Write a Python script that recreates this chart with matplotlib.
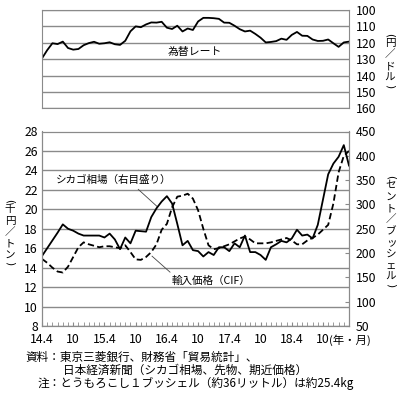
import matplotlib
matplotlib.use('Agg')
import matplotlib.pyplot as plt
import numpy as np

plt.rcParams['font.family'] = ['Noto Sans CJK JP', 'DejaVu Sans']

# ---- data ----
xtick_labels = ['14.4', '10', '15.4', '10', '16.4', '10', '17.4', '10', '18.4', '10']

yen = [129.5, 124.5, 120.3, 120.8, 119.3, 123.2, 124.2, 123.8, 121.5, 120.2,
       119.4, 120.6, 120.3, 119.7, 120.9, 121.3, 118.8, 113.0, 110.0, 110.5,
       108.8, 107.6, 107.7, 107.2, 110.8, 111.6, 109.6, 113.1, 111.3, 112.2,
       107.0, 104.8, 104.8, 105.0, 105.4, 107.7, 107.8, 109.6, 111.7, 113.1,
       112.6, 114.6, 116.9, 119.8, 119.5, 119.0, 117.5, 118.2, 115.2, 113.4,
       115.7, 115.8, 118.0, 118.9, 118.8, 118.0, 120.3, 122.5, 119.8, 119.3]

chicago_cents = [194, 210, 226, 242, 259, 250, 246, 240, 236, 236,
                 236, 236, 232, 240, 228, 208, 232, 220, 246, 245,
                 244, 274, 292, 306, 317, 302, 260, 216, 225, 206,
                 204, 193, 202, 196, 212, 212, 204, 220, 212, 236,
                 202, 202, 196, 186, 212, 218, 225, 222, 230, 248,
                 236, 238, 230, 258, 310, 362, 384, 398, 422, 380]

import_price = [14.9, 14.5, 14.0, 13.6, 13.5, 14.1, 15.1, 16.1, 16.6, 16.4,
                16.25, 16.1, 16.2, 16.2, 16.1, 16.0, 16.3, 15.6, 14.85, 14.8,
                15.1, 15.6, 16.4, 17.9, 18.5, 20.2, 21.3, 21.4, 21.6, 21.1,
                19.9, 18.0, 16.3, 15.9, 16.0, 16.2, 16.4, 16.7, 17.0, 17.2,
                16.9, 16.5, 16.5, 16.5, 16.6, 16.75, 16.9, 17.05, 16.8, 16.4,
                16.4, 16.8, 17.05, 17.4, 17.9, 18.4, 20.6, 23.8, 25.5, 26.0]

months = np.arange(len(yen))

W, H = 400, 397
GRID = '#8a8a8a'

def fx(x): return x / W
def fy(y): return 1 - y / H

fig = plt.figure(figsize=(W / 100, H / 100), dpi=100)

# ---- top panel: exchange rate ----
axt = fig.add_axes([fx(42), fy(108.3), (349 - 42) / W, (108.3 - 10) / H])
axt.plot(months, yen, color='black', lw=1.3)
axt.set_xlim(0, len(yen) - 1)
axt.set_ylim(160, 100)
axt.set_yticks(range(100, 161, 10))
axt.yaxis.tick_right()
axt.tick_params(axis='y', length=0, labelsize=8.8, pad=5)
axt.set_xticks([])
axt.grid(axis='y', color=GRID, lw=1.0)
for s in axt.spines.values():
    s.set_color(GRID)
axt.text(29.4, 125.6, '為替レート', fontsize=7.8, ha='center', va='center')

# ---- bottom panel ----
ax = fig.add_axes([fx(42), fy(326), (349 - 42) / W, (326 - 131.5) / H])
ax.set_xlim(0, len(yen) - 1)
ax.set_ylim(8, 28)
ax.set_yticks(range(8, 29, 2))
ax.grid(axis='y', color=GRID, lw=1.0)
ax.tick_params(axis='y', length=0, labelsize=8.8, pad=3)
ax.set_xticks(np.arange(0, 60, 6))
ax.set_xticklabels(xtick_labels)
ax.set_xticks(months, minor=True)
ax.tick_params(axis='x', which='both', direction='in', length=3, color=GRID,
               labelsize=8.8, pad=5)
for s in ax.spines.values():
    s.set_color(GRID)
ax.plot(months, import_price, color='black', lw=1.3, linestyle=(0, (3.5, 1.8)))

ax2 = ax.twinx()
ax2.set_ylim(50, 450)
ax2.set_yticks(range(50, 451, 50))
ax2.tick_params(axis='y', direction='in', length=3, color=GRID, labelsize=8.8, pad=5)
for s in ax2.spines.values():
    s.set_color(GRID)
ax2.plot(months, chicago_cents, color='black', lw=1.3)

# annotations
ax.plot([18.5, 22.1], [22.05, 20.3], color='#444444', lw=0.6)
ax.text(13.8, 23.0, 'シカゴ相場（右目盛り）', fontsize=7.6, ha='center', va='center')
ax.plot([21.15, 24.6], [15.18, 13.54], color='#444444', lw=0.6)
ax.text(32.5, 12.6, '輸入価格（CIF）', fontsize=7.6, ha='center', va='center')

# year/month unit after last tick label
fig.text(fx(329), fy(340), '(年・月)', fontsize=8.2, ha='left', va='center')

# vertical labels (stacked characters)
def vlabel(x, y0, chars, step, fs=7.6):
    y = y0
    for i, ch in enumerate(chars):
        if ch in '()':
            fig.text(fx(x), fy(y), ch, fontsize=fs, ha='center', va='center',
                     rotation=-90, family='DejaVu Sans')
        else:
            fig.text(fx(x), fy(y), ch, fontsize=fs, ha='center', va='center')
        nxt = chars[i + 1] if i + 1 < len(chars) else ''
        if ch in '()' or nxt in '()':
            y += step * 0.7
        else:
            y += step

vlabel(390, 35, '(円／ドル)', 11.5)
vlabel(10, 201, '(千円／トン)', 11.5)
vlabel(391, 177, '(セント／ブッシェル)', 11.5)

# footer
fig.text(fx(25), fy(357), '資料：東京三菱銀行、財務省「貿易統計」、', fontsize=8.4, ha='left', va='center')
fig.text(fx(63), fy(370), '日本経済新聞（シカゴ相場、先物、期近価格）', fontsize=8.4, ha='left', va='center')
fig.text(fx(38), fy(383), '注：とうもろこし１ブッシェル（約36リットル）は約25.4kg', fontsize=8.4, ha='left', va='center')

fig.savefig('out.png', dpi=100)
